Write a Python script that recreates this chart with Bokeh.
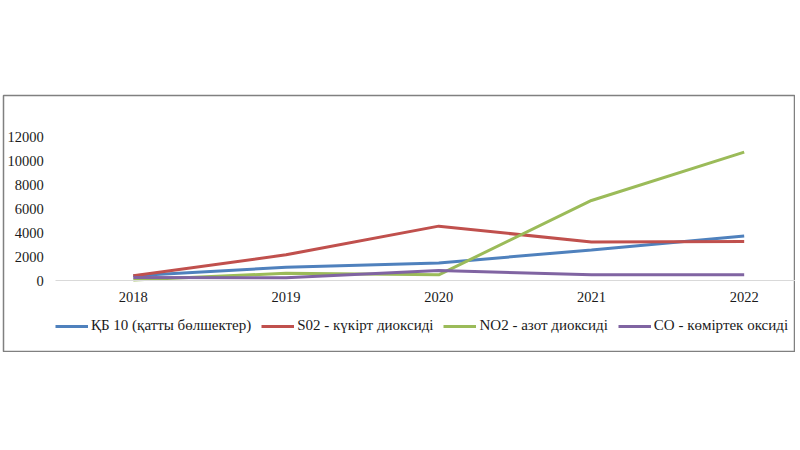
from bokeh.plotting import figure
from bokeh.models import LinearAxis, FixedTicker, Range1d, Legend
from bokeh.embed import file_html
from bokeh.resources import INLINE

years = [2018, 2019, 2020, 2021, 2022]
pm10 = [400, 1100, 1450, 2550, 3700]
so2 = [400, 2140, 4530, 3200, 3250]
no2 = [50, 600, 470, 6670, 10700]
co = [250, 220, 830, 470, 470]
y_ticks = [0, 2000, 4000, 6000, 8000, 10000, 12000]
series_names = ["ҚБ 10 (қатты бөлшектер)", "S02 - күкірт диоксиді",
                "NO2 - азот диоксиді", "CO - көміртек оксиді"]
colors = ["#4F81BD", "#C0504D", "#9BBB59", "#8064A2"]

FONT = "Liberation Serif"

p = figure(width=795, height=352, output_backend="svg", toolbar_location=None,
           x_axis_type=None, y_axis_type=None,
           x_range=Range1d(2017.15, 2022.336), y_range=Range1d(-6000, 15417),
           min_border_left=3, min_border_right=0, min_border_bottom=0,
           min_border_top=95)
p.background_fill_color = "white"
p.border_fill_color = "white"
p.outline_line_color = "#808080"
p.outline_line_width = 1.5
p.xgrid.visible = False
p.ygrid.visible = False

yaxis = LinearAxis(ticker=FixedTicker(ticks=y_ticks), fixed_location=2017.46)
yaxis.axis_line_color = None
yaxis.major_tick_line_color = None
yaxis.minor_tick_line_color = None
yaxis.major_tick_out = 0
yaxis.major_label_standoff = 7
yaxis.major_label_text_font = FONT
yaxis.major_label_text_font_size = "14.5px"
yaxis.major_label_text_color = "#1a1a1a"
p.add_layout(yaxis, "left")

xaxis = LinearAxis(ticker=FixedTicker(ticks=years), fixed_location=0,
                   bounds=(2017.49, 2022.336))
xaxis.axis_line_color = "#d9d9d9"
xaxis.axis_line_width = 1
xaxis.major_tick_line_color = None
xaxis.minor_tick_line_color = None
xaxis.major_tick_out = 0
xaxis.major_label_standoff = 11
xaxis.major_label_text_font = FONT
xaxis.major_label_text_font_size = "14.5px"
xaxis.major_label_text_color = "#1a1a1a"
p.add_layout(xaxis, "below")

items = []
for vals, name, c in zip([pm10, so2, no2, co], series_names, colors):
    r = p.line(years, vals, line_width=3, line_color=c)
    items.append((name, [r]))

legend = Legend(items=items, orientation="horizontal", location=(52, 18))
legend.padding = 0
legend.margin = 0
legend.spacing = 10
legend.label_standoff = 3
legend.glyph_width = 33
legend.glyph_height = 16
legend.label_height = 16
legend.label_text_font = FONT
legend.label_text_font_size = "15px"
legend.label_text_color = "#1a1a1a"
legend.border_line_color = None
legend.background_fill_alpha = 0
p.add_layout(legend, "center")

open("out.html", "w").write(file_html(p, INLINE))
